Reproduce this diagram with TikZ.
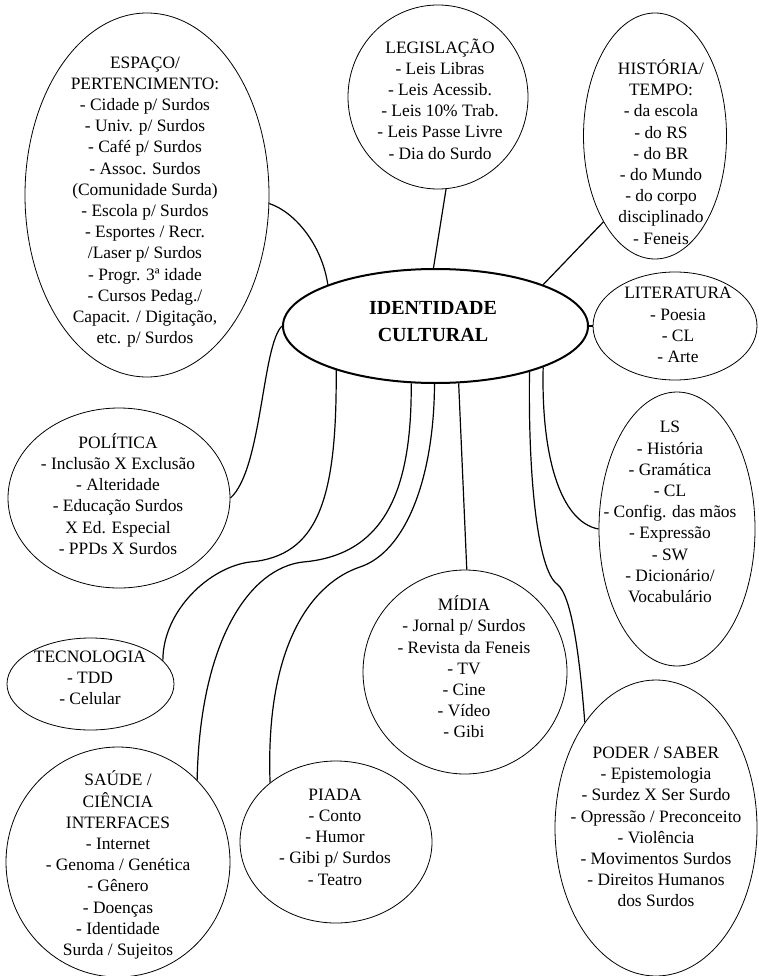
\documentclass[tikz,border=0pt]{standalone}
\usepackage{fontspec}
\setmainfont{Liberation Serif}
\usetikzlibrary{shapes.geometric}
\tikzset{
  bub/.style={ellipse, draw, line width=0.8pt, inner sep=0pt},
  lbl/.style={align=center, font=\fontsize{17.4}{21.2}\selectfont, inner sep=0pt},
  link/.style={line width=1.2pt}
}
\begin{document}
\begin{tikzpicture}[x=1pt,y=1pt]
\useasboundingbox (0,0) rectangle (759,-976);
% bubbles
\node[bub, minimum width=244pt, minimum height=364pt] (esp) at (147,-195) {};
\node[bub, minimum width=180pt, minimum height=184pt] (leg) at (438,-97) {};
\node[bub, minimum width=143pt, minimum height=246pt] (his) at (655,-136) {};
\node[bub, line width=2pt, minimum width=305pt, minimum height=114pt] (ctr) at (435.5,-326) {};
\node[bub, minimum width=164pt, minimum height=108pt] (lit) at (675,-326) {};
\node[bub, minimum width=156pt, minimum height=274pt] (ls) at (677,-529) {};
\node[bub, minimum width=202pt, minimum height=296pt] (pod) at (656,-828) {};
\node[bub, minimum width=204pt, minimum height=204pt] (mid) at (465,-672) {};
\node[bub, minimum width=192pt, minimum height=162pt] (pia) at (336,-842) {};
\node[bub, minimum width=222pt, minimum height=180pt] (pol) at (119,-498) {};
\node[bub, minimum width=167pt, minimum height=92pt] (tec) at (90.5,-684) {};
\node[bub, minimum width=224pt, minimum height=230pt] (sau) at (118,-862) {};
% texts
\node[lbl] (espT) at (145,-202) {ESPAÇO/\\PERTENCIMENTO:\\- Cidade p/ Surdos\\- Univ. p/ Surdos\\- Café p/ Surdos\\- Assoc. Surdos\\(Comunidade Surda)\\- Escola p/ Surdos\\- Esportes / Recr.\\/Laser p/ Surdos\\- Progr. 3ª idade\\- Cursos Pedag./\\Capacit. / Digitação,\\etc. p/ Surdos};
\node[lbl] (legT) at (440,-99) {LEGISLAÇÃO\\- Leis Libras\\- Leis Acessib.\\- Leis 10\% Trab.\\- Leis Passe Livre\\- Dia do Surdo};
\node[lbl] (hisT) at (661,-152) {HISTÓRIA/\\TEMPO:\\- da escola\\- do RS\\- do BR\\- do Mundo\\- do corpo\\disciplinado\\- Feneis};
\node[lbl, font=\fontsize{20}{27}\selectfont\bfseries] (ctrT) at (433,-321) {IDENTIDADE\\CULTURAL};
\node[lbl] (litT) at (678,-325) {LITERATURA\\- Poesia\\- CL\\- Arte};
\node[lbl] (lsT) at (670,-512) {LS\\- História\\- Gramática\\- CL\\- Config. das mãos\\- Expressão\\- SW\\- Dicionário/\\Vocabulário};
\node[lbl] (midT) at (464,-667) {MÍDIA\\- Jornal p/ Surdos\\- Revista da Feneis\\- TV\\- Cine\\- Vídeo\\- Gibi};
\node[lbl] (podT) at (656,-827) {PODER / SABER\\- Epistemologia\\- Surdez X Ser Surdo\\- Opressão / Preconceito\\- Violência\\- Movimentos Surdos\\- Direitos Humanos\\dos Surdos};
\node[lbl] (polT) at (118,-494) {POLÍTICA\\- Inclusão X Exclusão\\- Alteridade\\- Educação Surdos\\X Ed. Especial\\- PPDs X Surdos};
\node[lbl] (tecT) at (90,-678) {TECNOLOGIA\\- TDD\\- Celular};
\node[lbl] (sauT) at (118,-865) {SAÚDE /\\CIÊNCIA\\INTERFACES\\- Internet\\- Genoma / Genética\\- Gênero\\- Doenças\\- Identidade\\Surda / Sujeitos};
\node[lbl] (piaT) at (335,-837) {PIADA\\- Conto\\- Humor\\- Gibi p/ Surdos\\- Teatro};
% connectors
\draw[link] (leg.-85) -- (ctr.92);
\draw[link] (his.-121) -- (ctr.21);
\draw[link] (ctr.east) -- (lit.west);
\draw[link] (esp.-4) .. controls (295,-212) and (322,-245) .. (ctr.159);
\draw[link] (ctr.west) .. controls (262,-345) and (262,-470) .. (pol.east);
\draw[link] (ctr.-156) .. controls (337,-500) and (318,-556) .. (250,-562) .. controls (210,-567) and (163,-610) .. (tec.18);
\draw[link] (ctr.-113.5) .. controls (412,-490) and (385,-555) .. (303,-562) .. controls (250,-568) and (200,-640) .. (sau.46);
\draw[link] (ctr.-91) .. controls (434,-480) and (405,-552) .. (360,-567) .. controls (315,-582) and (265,-640) .. (pia.138);
\draw[link] (ctr.-68) -- (mid.89);
\draw[link] (ctr.-21.7) .. controls (541,-455) and (560,-522) .. (ls.west);
\draw[link] (ctr.-26.1) .. controls (528,-480) and (538,-570) .. (557,-584) .. controls (572,-595) and (580,-660) .. (pod.124);
\end{tikzpicture}
\end{document}
